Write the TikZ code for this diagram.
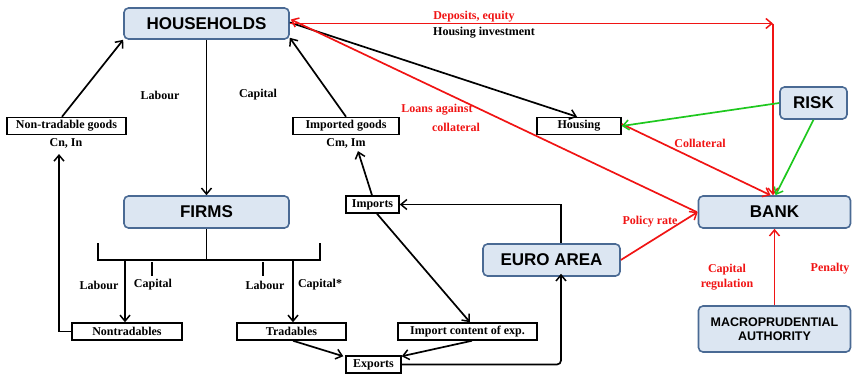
\documentclass[tikz,border=0pt]{standalone}
\usepackage{fontspec}
\setmainfont{Liberation Serif}
\newfontfamily\boxfont{Liberation Sans}
\usetikzlibrary{arrows.meta,calc}
\definecolor{boxfill}{RGB}{220,230,242}
\definecolor{boxline}{RGB}{74,106,148}
\definecolor{redline}{RGB}{240,20,20}
\definecolor{greenline}{RGB}{30,200,30}
\tikzset{
  bigbox/.style={draw=boxline, fill=boxfill, line width=1.6pt, rounded corners=4.5pt,
     font=\boxfont\bfseries\fontsize{17}{18}\selectfont, inner sep=0pt, align=center},
  smallbox/.style={draw=black, fill=white, line width=1.5pt, inner sep=0pt,
     minimum height=17pt, font=\bfseries\fontsize{12}{12}\selectfont},
  lbl/.style={font=\bfseries\fontsize{12}{14.5}\selectfont, inner sep=0pt, align=center},
  rlbl/.style={lbl, text=redline},
  conn/.style={line width=1.7pt, draw=black},
  arr/.style={conn, -{Straight Barb[length=6pt,width=10pt,line width=1.5pt]}},
  rarr/.style={arr, draw=redline},
  garr/.style={arr, draw=greenline},
}
\begin{document}
\begin{tikzpicture}[x=1pt,y=-1pt]
\useasboundingbox (0,0) rectangle (852,375);
% big boxes
\node[bigbox, minimum width=165pt, minimum height=31pt] (hh) at (206.5,23.5) {HOUSEHOLDS};
\node[bigbox, minimum width=165pt, minimum height=32pt] (firms) at (206.5,212) {FIRMS};
\node[bigbox, minimum width=137pt, minimum height=32pt] (euro) at (551.5,260) {EURO AREA};
\node[bigbox, minimum width=152pt, minimum height=32pt] (bank) at (774.5,212) {BANK};
\node[bigbox, minimum width=67pt, minimum height=32pt] (risk) at (813.5,103) {RISK};
\node[bigbox, minimum width=152pt, minimum height=46pt, font=\boxfont\bfseries\fontsize{12.5}{14}\selectfont] (macro) at (774.5,329) {MACROPRUDENTIAL\\AUTHORITY};
% small boxes
\node[smallbox, minimum width=119pt] (ntg) at (66.5,126) {Non-tradable goods};
\node[smallbox, minimum width=106pt] (ig) at (346,126) {Imported goods};
\node[smallbox, minimum width=84pt] (housing) at (579,126) {Housing};
\node[smallbox, minimum width=53pt] (imports) at (372.5,204.5) {Imports};
\node[smallbox, minimum width=110pt] (nontr) at (127,331.5) {Nontradables};
\node[smallbox, minimum width=109pt] (tr) at (291.5,331.5) {Tradables};
\node[smallbox, minimum width=139pt] (ice) at (467.5,331.5) {Import content of exp.};
\node[smallbox, minimum width=55pt] (exports) at (373.5,364.5) {Exports};
% labels
\node[lbl] (cnin) at (66,143) {Cn, In};
\node[lbl] (cmim) at (346,143) {Cm, Im};
\node[lbl] (lab1) at (160,95) {Labour};
\node[lbl] (cap1) at (258,95) {Capital};
\node[lbl] (lab2) at (99,285) {Labour};
\node[lbl] (cap2) at (153,285) {Capital};
\node[lbl] (lab3) at (265,285) {Labour};
\node[lbl] (cap3) at (320,285) {Capital*};
\node[rlbl] (dep) at (474,17) {Deposits, equity};
\node[lbl] (hinv) at (484,33) {Housing investment};
\node[rlbl] (loans1) at (437,110) {Loans against};
\node[rlbl] (loans2) at (456,127) {collateral};
\node[rlbl] (coll) at (700,143) {Collateral};
\node[rlbl] (policy) at (650,222) {Policy rate};
\node[rlbl] (capreg) at (727,277) {Capital\\regulation};
\node[rlbl] (pen) at (830,269) {Penalty};
% coordinates
\coordinate (corner) at (773,23.5);
\coordinate (fsplit) at (206.5,260);
\coordinate (tl) at (98,260);
\coordinate (tr2) at (320,260);
\coordinate (ntcorner) at (59,331.5);
\coordinate (ntend) at (59,154);
\coordinate (excorner) at (561,364.5);
\coordinate (eucorner) at (561,204.5);
\coordinate (ntsplit) at (125,260);
\coordinate (trsplit) at (293,260);
% black connectors
\draw[arr] (hh.south) -- (firms.north);
\draw[arr] ([xshift=-4.5pt]ntg.north) -- (hh.south west);
\draw[arr] (ig.north) -- ([yshift=2pt]hh.south east);
\draw[arr] ([yshift=1pt]hh.east) -- ([xshift=-2pt]housing.north);
\draw[conn] (firms.south) -- (fsplit);
\draw[conn] ([yshift=17pt]tl) -- (tl) -- (tr2) -- ([yshift=17pt]tr2);
\draw[arr] (ntsplit) -- (ntsplit |- nontr.north);
\draw[arr] (trsplit) -- (trsplit |- tr.north);
\draw[conn] (152,262) -- (152,276);
\draw[conn] (263,262) -- (263,276);
\draw[arr] (nontr.west) -- (ntcorner) -- (ntend);
\draw[arr] ([xshift=-0.5pt]imports.north) -- ([xshift=12pt,yshift=-3pt]cmim.south);
\draw[arr] ([xshift=4.5pt]imports.south) -- ([xshift=2.5pt]ice.north);
\draw[arr] ([xshift=1.5pt]tr.south) -- ([xshift=-2pt,yshift=-1pt]exports.north west);
\draw[arr] ([xshift=4.5pt]ice.south) -- ([yshift=-1pt]exports.north east);
\draw[arr, rounded corners=4pt] (exports.east) -- (excorner) -- ([xshift=9.5pt,yshift=3pt]euro.south);
\draw[arr] ([xshift=9.5pt]euro.north) -- (eucorner) -- (imports.east);
% red connectors
\draw[rarr] (hh.east) -- (corner);
\draw[rarr] (corner) -- (corner |- bank.north);
\draw[rarr] ([xshift=-1pt]bank.west) -- ([xshift=1pt,yshift=4pt]hh.east);
\draw[rarr] (euro.east) -- (bank.west);
\draw[rarr] ([yshift=2pt]housing.east) -- ([xshift=-4pt]bank.north);
\draw[rarr] (macro.north) -- (bank.south);
% green connectors
\draw[garr] (risk.west) -- (housing.east);
\draw[garr] (risk.south) -- ([xshift=1pt]bank.north);
\end{tikzpicture}
\end{document}
